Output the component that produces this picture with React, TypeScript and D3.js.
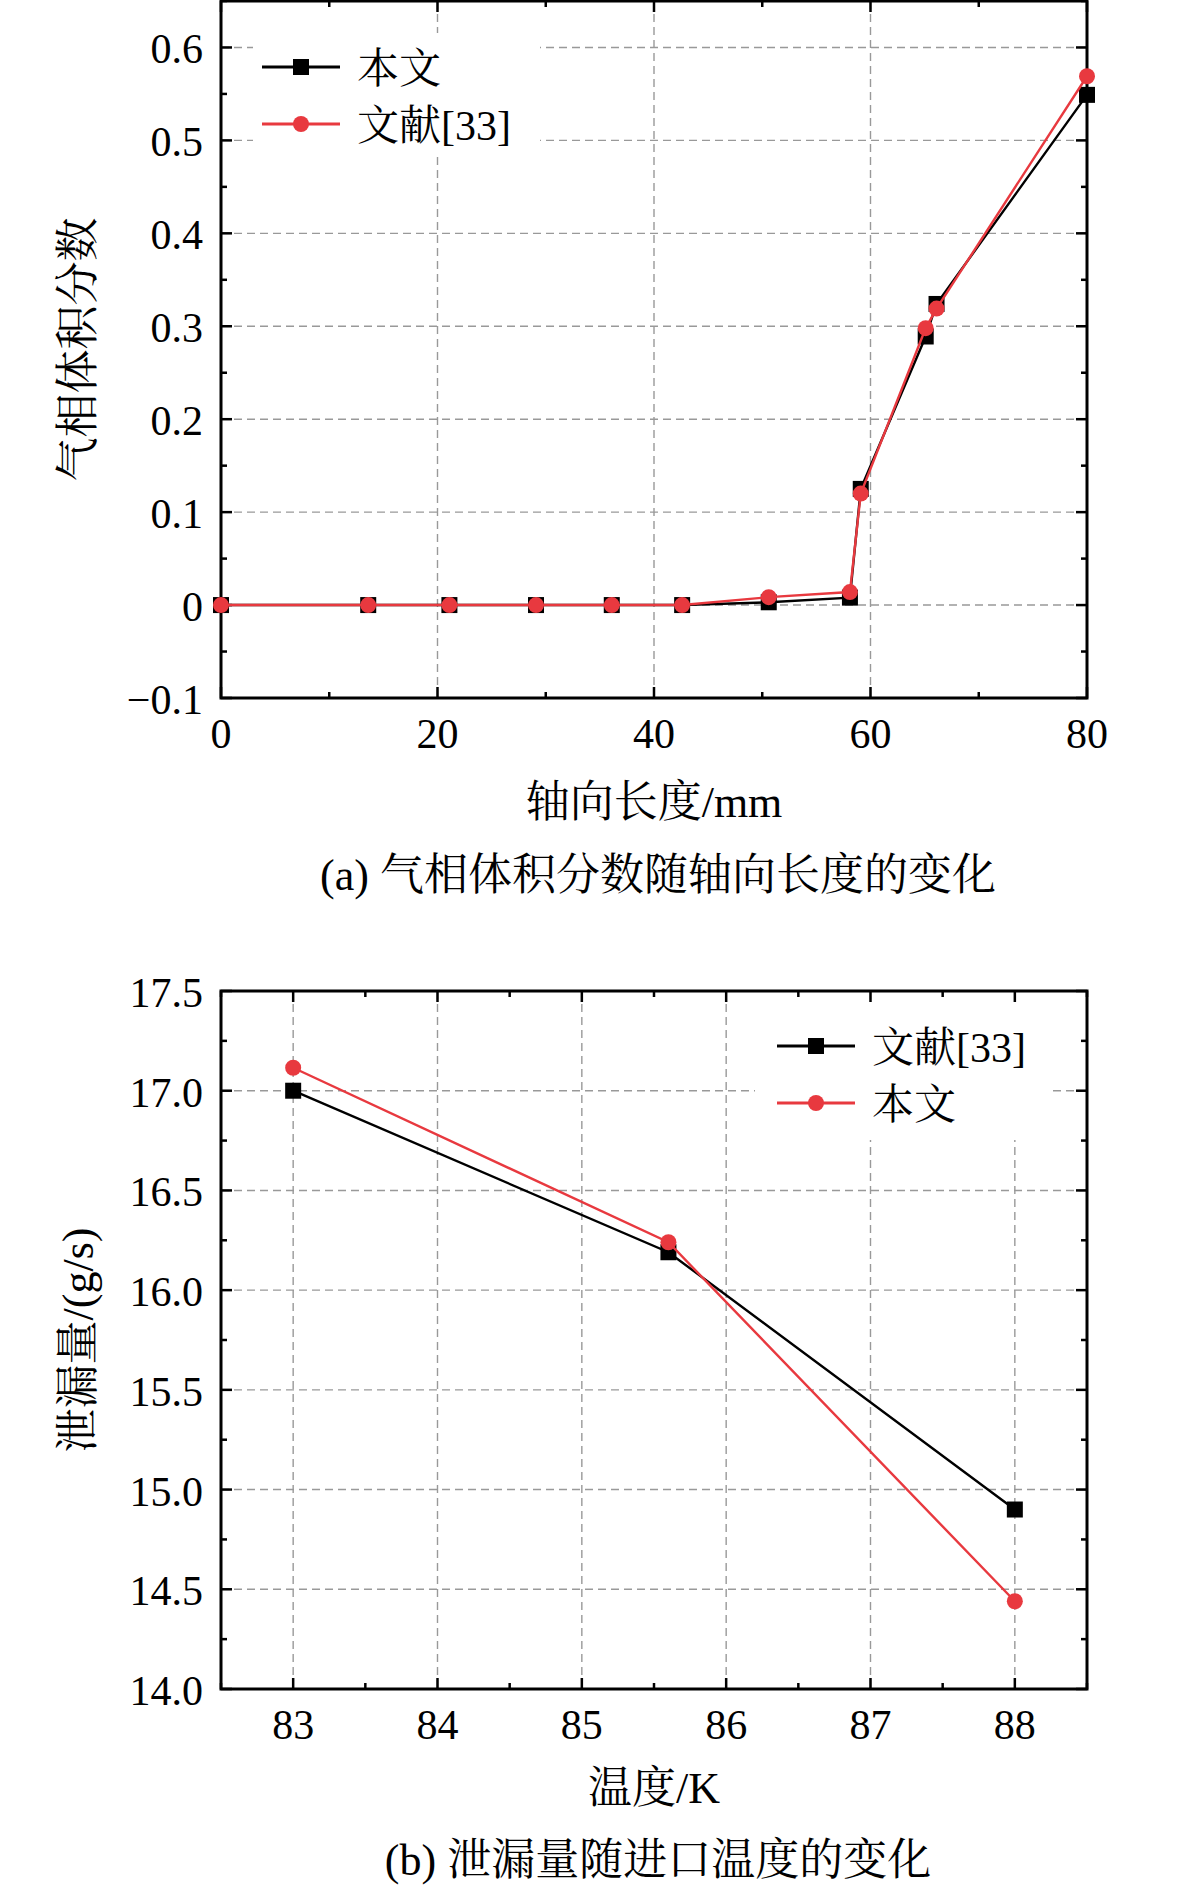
import { useRef, useEffect } from "react";
import * as d3 from "d3";

// panel (a): gas volume fraction along the axial length
const axialLength = [0, 13.6, 21.1, 29.1, 36.1, 42.6, 50.6, 58.1, 59.1, 65.1, 66.1, 80];
const fractionThisWork = [0, 0, 0, 0, 0, 0, 0.003, 0.008, 0.125, 0.289, 0.324, 0.549];
const fractionRef33 = [0, 0, 0, 0, 0, 0, 0.0085, 0.014, 0.12, 0.298, 0.319, 0.569];
const axialTicks = [0, 20, 40, 60, 80];
const fractionTicks = [-0.1, 0, 0.1, 0.2, 0.3, 0.4, 0.5, 0.6];

// panel (b): leakage vs inlet temperature
const temperature = [83, 85.6, 88];
const leakRef33 = [17.0, 16.19, 14.9];
const leakThisWork = [17.115, 16.24, 14.44];
const temperatureTicks = [83, 84, 85, 86, 87, 88];
const leakTicks = [14.0, 14.5, 15.0, 15.5, 16.0, 16.5, 17.0, 17.5];

const FONT = "'Liberation Serif', 'Times New Roman', 'Noto Serif CJK SC', 'Noto Sans CJK SC', serif";
const RED = "#e8393f";

interface Series {
  name: string;
  x: number[];
  y: number[];
  color: string;
  marker: "square" | "circle";
}

interface Panel {
  top: number;
  bottom: number;
  xDomain: [number, number];
  yDomain: [number, number];
  xTicks: number[];
  xMinor: number;
  yTicks: number[];
  yMinor: number;
  yFormat: (v: number) => string;
  xTitle: string;
  yTitle: string;
  caption: string;
  xTitleY: number;
  captionY: number;
  series: Series[];
  legend: { x: number; y: number; w: number; h: number; lineX: number; rowY: number };
}

export default function App() {
  const svgRef = useRef<SVGSVGElement>(null);
  const width = 1181;
  const height = 1891;
  const left = 221;
  const right = 1087;

  useEffect(() => {
    const svg = d3.select(svgRef.current);
    svg.selectAll("*").remove();

    const panels: Panel[] = [
      {
        top: 1,
        bottom: 698,
        xDomain: [0, 80],
        yDomain: [-0.1, 0.65],
        xTicks: axialTicks,
        xMinor: 10,
        yTicks: fractionTicks,
        yMinor: 0.05,
        yFormat: (v) => (Math.abs(v) < 1e-9 ? "0" : v < 0 ? "\u2212" + Math.abs(v).toFixed(1) : v.toFixed(1)),
        xTitle: "轴向长度/mm",
        yTitle: "气相体积分数",
        caption: "(a) 气相体积分数随轴向长度的变化",
        xTitleY: 802,
        captionY: 875,
        series: [
          { name: "本文", x: axialLength, y: fractionThisWork, color: "#000", marker: "square" },
          { name: "文献[33]", x: axialLength, y: fractionRef33, color: RED, marker: "circle" },
        ],
        legend: { x: 253, y: 33, w: 287, h: 122, lineX: 262, rowY: 67 },
      },
      {
        top: 991,
        bottom: 1689,
        xDomain: [82.5, 88.5],
        yDomain: [14.0, 17.5],
        xTicks: temperatureTicks,
        xMinor: 0.5,
        yTicks: leakTicks,
        yMinor: 0.25,
        yFormat: (v) => v.toFixed(1),
        xTitle: "温度/K",
        yTitle: "泄漏量/(g/s)",
        caption: "(b) 泄漏量随进口温度的变化",
        xTitleY: 1788,
        captionY: 1860,
        series: [
          { name: "文献[33]", x: temperature, y: leakRef33, color: "#000", marker: "square" },
          { name: "本文", x: temperature, y: leakThisWork, color: RED, marker: "circle" },
        ],
        legend: { x: 755, y: 1003, w: 298, h: 137, lineX: 777, rowY: 1046 },
      },
    ];

    panels.forEach((p) => {
      const x = d3.scaleLinear().domain(p.xDomain).range([left, right]);
      const y = d3.scaleLinear().domain(p.yDomain).range([p.bottom, p.top]);
      const g = svg.append("g");

      // Grid lines
      const xGrid = p.xTicks.filter((t) => x(t) > left + 2 && x(t) < right - 2);
      const yGrid = p.yTicks.filter((t) => y(t) < p.bottom - 2 && y(t) > p.top + 2);
      g.selectAll(".vgrid")
        .data(xGrid)
        .enter()
        .append("line")
        .attr("x1", (d) => x(d))
        .attr("x2", (d) => x(d))
        .attr("y1", p.top)
        .attr("y2", p.bottom)
        .attr("stroke", "#999")
        .attr("stroke-width", 1.4)
        .attr("stroke-dasharray", "8,5");
      g.selectAll(".hgrid")
        .data(yGrid)
        .enter()
        .append("line")
        .attr("x1", left)
        .attr("x2", right)
        .attr("y1", (d) => y(d))
        .attr("y2", (d) => y(d))
        .attr("stroke", "#999")
        .attr("stroke-width", 1.4)
        .attr("stroke-dasharray", "8,5");

      // Legend background hides the grid behind it
      g.append("rect")
        .attr("x", p.legend.x)
        .attr("y", p.legend.y)
        .attr("width", p.legend.w)
        .attr("height", p.legend.h)
        .attr("fill", "#fff");

      // Ticks (inward on all four sides)
      const xMinorTicks = d3.range(p.xDomain[0], p.xDomain[1] + 1e-9, p.xMinor).filter(
        (t) => !p.xTicks.some((m) => Math.abs(m - t) < 1e-9)
      );
      const yMinorTicks = d3.range(p.yDomain[0], p.yDomain[1] + 1e-9, p.yMinor).filter(
        (t) => !p.yTicks.some((m) => Math.abs(m - t) < 1e-9)
      );
      const tickGroup = g.append("g").attr("stroke", "#000").attr("stroke-width", 2.5);
      const xt = [
        ...p.xTicks.map((t) => ({ t, len: 11 })),
        ...xMinorTicks.map((t) => ({ t, len: 6 })),
      ];
      const yt = [
        ...p.yTicks.map((t) => ({ t, len: 11 })),
        ...yMinorTicks.map((t) => ({ t, len: 6 })),
      ];
      xt.forEach(({ t, len }) => {
        tickGroup.append("line").attr("x1", x(t)).attr("x2", x(t)).attr("y1", p.bottom).attr("y2", p.bottom - len);
        tickGroup.append("line").attr("x1", x(t)).attr("x2", x(t)).attr("y1", p.top).attr("y2", p.top + len);
      });
      yt.forEach(({ t, len }) => {
        tickGroup.append("line").attr("x1", left).attr("x2", left + len).attr("y1", y(t)).attr("y2", y(t));
        tickGroup.append("line").attr("x1", right).attr("x2", right - len).attr("y1", y(t)).attr("y2", y(t));
      });

      // Frame
      g.append("rect")
        .attr("x", left)
        .attr("y", p.top)
        .attr("width", right - left)
        .attr("height", p.bottom - p.top)
        .attr("fill", "none")
        .attr("stroke", "#000")
        .attr("stroke-width", 3);

      // Tick labels
      g.selectAll(".xlabel")
        .data(p.xTicks)
        .enter()
        .append("text")
        .attr("x", (d) => x(d))
        .attr("y", p.bottom + 36)
        .attr("text-anchor", "middle")
        .attr("dominant-baseline", "central")
        .attr("font-family", FONT)
        .attr("font-size", 42)
        .text((d) => String(d));
      g.selectAll(".ylabel")
        .data(p.yTicks)
        .enter()
        .append("text")
        .attr("x", 203)
        .attr("y", (d) => y(d) + 2)
        .attr("text-anchor", "end")
        .attr("dominant-baseline", "central")
        .attr("font-family", FONT)
        .attr("font-size", 42)
        .text((d) => p.yFormat(d));

      // Titles
      g.append("text")
        .attr("x", (left + right) / 2)
        .attr("y", p.xTitleY)
        .attr("text-anchor", "middle")
        .attr("dominant-baseline", "central")
        .attr("font-family", FONT)
        .attr("font-size", 44)
        .text(p.xTitle);
      g.append("text")
        .attr("transform", `translate(78,${(p.top + p.bottom) / 2}) rotate(-90)`)
        .attr("text-anchor", "middle")
        .attr("dominant-baseline", "central")
        .attr("font-family", FONT)
        .attr("font-size", 44)
        .text(p.yTitle);
      g.append("text")
        .attr("x", 658)
        .attr("y", p.captionY)
        .attr("text-anchor", "middle")
        .attr("dominant-baseline", "central")
        .attr("font-family", FONT)
        .attr("font-size", 44)
        .text(p.caption);

      // Series
      const drawMarker = (sel: d3.Selection<SVGGElement, unknown, null, undefined>, s: Series, cx: number, cy: number) => {
        if (s.marker === "square") {
          sel.append("rect").attr("x", cx - 8).attr("y", cy - 8).attr("width", 16).attr("height", 16).attr("fill", s.color);
        } else {
          sel.append("circle").attr("cx", cx).attr("cy", cy).attr("r", 8).attr("fill", s.color);
        }
      };

      p.series.forEach((s, si) => {
        const pts = s.x.map((v, i) => [v, s.y[i]] as [number, number]);
        const line = d3
          .line<[number, number]>()
          .x((d) => x(d[0]))
          .y((d) => y(d[1]));
        const sg = svg.append("g");
        sg.append("path")
          .datum(pts)
          .attr("fill", "none")
          .attr("stroke", s.color)
          .attr("stroke-width", 2.4)
          .attr("d", line);
        pts.forEach((d) => drawMarker(sg, s, x(d[0]), y(d[1])));

        // Legend entry
        const ly = p.legend.rowY + si * 57;
        const lg = svg.append("g");
        lg.append("line")
          .attr("x1", p.legend.lineX)
          .attr("x2", p.legend.lineX + 78)
          .attr("y1", ly)
          .attr("y2", ly)
          .attr("stroke", s.color)
          .attr("stroke-width", 2.8);
        drawMarker(lg, s, p.legend.lineX + 39, ly);
        lg.append("text")
          .attr("x", p.legend.lineX + 95)
          .attr("y", ly + 2)
          .attr("dominant-baseline", "central")
          .attr("font-family", FONT)
          .attr("font-size", 42)
          .text(s.name);
      });
    });
  }, []);

  return (
    <svg
      ref={svgRef}
      width={width}
      height={height}
      style={{ position: "absolute", left: 0, top: 0, background: "#fff" }}
    ></svg>
  );
}
